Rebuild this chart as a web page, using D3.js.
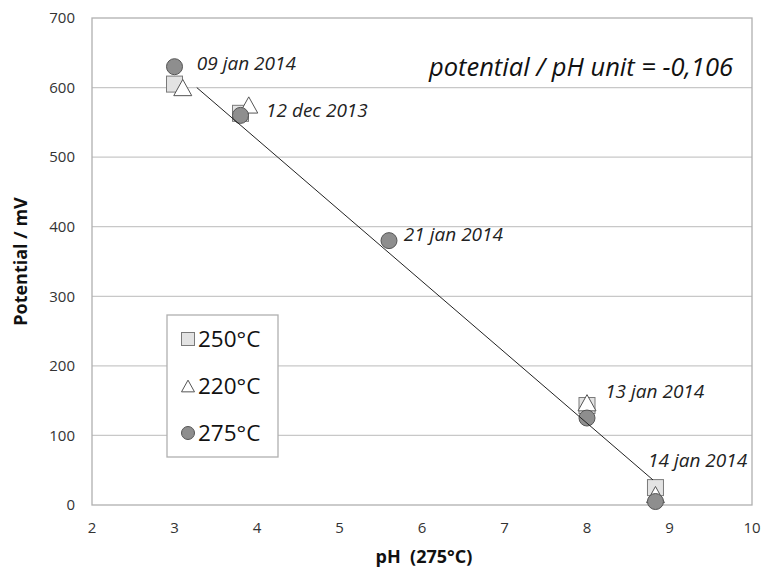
<!DOCTYPE html>
<html>
<head>
<meta charset="utf-8">
<title>Potential vs pH</title>
<script src="https://cdn.jsdelivr.net/npm/d3@7"></script>
<style>
	body { margin: 0; background: #fff; }
	text { font-family: "Open Sans", "Noto Sans", sans-serif; white-space: pre; }
</style>
</head>
<body>
<div id="vis"></div>
<script type="text/javascript">
// data
const xTicks = [2, 3, 4, 5, 6, 7, 8, 9, 10];
const yTicks = [0, 100, 200, 300, 400, 500, 600, 700];
const series = ['250°C', '220°C', '275°C'];
const pts250 = [[3.0, 605], [3.8, 563], [8.0, 143], [8.83, 25]];
const pts220 = [[3.1, 600], [3.9, 575], [8.0, 147], [8.83, 15]];
const pts275 = [[3.0, 630], [3.8, 560], [5.6, 380], [8.0, 125], [8.83, 5]];
const dateLabels = ['09 jan 2014', '12 dec 2013', '21 jan 2014', '13 jan 2014', '14 jan 2014'];
const datePos = [[3.27, 625], [4.11, 558], [5.78, 379], [8.22, 154], [8.74, 55]];
const trend = [[3.27, 600], [8.8, 36]];
const note = 'potential / pH unit = -0,106';

var W = 763, H = 573;
var margin = {top: 18, right: 11, bottom: 68, left: 92};
var svg = d3.select('#vis').append('svg').attr('width', W).attr('height', H);

var x = d3.scaleLinear().domain([2, 10]).range([margin.left, W - margin.right]);
var y = d3.scaleLinear().domain([0, 700]).range([H - margin.bottom, margin.top]);

// gridlines
svg.append('g').selectAll('line').data(yTicks.filter(function(d){ return d > 0 && d < 700; }))
	.enter().append('line')
	.attr('x1', x(2)).attr('x2', x(10))
	.attr('y1', function(d){ return y(d); }).attr('y2', function(d){ return y(d); })
	.attr('stroke', '#c8c8c8').attr('stroke-width', 1.3);

// frame
svg.append('rect')
	.attr('x', x(2)).attr('y', y(700))
	.attr('width', x(10) - x(2)).attr('height', y(0) - y(700))
	.attr('fill', 'none').attr('stroke', '#b0b0b0').attr('stroke-width', 1.3);

// y axis
var yAxis = svg.append('g').attr('transform', 'translate(' + x(2) + ',0)')
	.call(d3.axisLeft(y).tickValues(yTicks).tickSize(0).tickPadding(17));
yAxis.select('.domain').remove();
yAxis.selectAll('.tick text').attr('font-size', 15).attr('fill', '#333')
	.style('font-family', '"Open Sans", sans-serif');

// x axis labels (no tick marks)
svg.append('g').selectAll('text').data(xTicks)
	.enter().append('text')
	.attr('x', function(d){ return x(d); })
	.attr('y', y(0) + 28)
	.attr('text-anchor', 'middle')
	.attr('font-size', 15).attr('fill', '#333')
	.text(function(d){ return d; });

// axis titles
svg.append('text')
	.attr('transform', 'translate(27,' + ((y(0) + y(700)) / 2) + ') rotate(-90)')
	.attr('text-anchor', 'middle')
	.attr('font-size', 18).attr('font-weight', 'bold').attr('fill', '#111')
	.text('Potential / mV');
svg.append('text')
	.attr('x', (x(2) + x(10)) / 2 + 2).attr('y', 563)
	.attr('text-anchor', 'middle')
	.attr('font-size', 18).attr('font-weight', 'bold').attr('fill', '#111')
	.text('pH  (275°C)');

// markers
function drawSquare(g, cx, cy, s){
	g.append('rect').attr('x', cx - s/2).attr('y', cy - s/2).attr('width', s).attr('height', s)
		.attr('fill', '#e3e3e3').attr('stroke', '#7a7a7a').attr('stroke-width', 1);
}
function drawTriangle(g, cx, cy, s){
	var h = s * 0.9;
	g.append('path')
		.attr('d', 'M' + cx + ',' + (cy - h/2) + 'L' + (cx + s/2) + ',' + (cy + h/2) + 'L' + (cx - s/2) + ',' + (cy + h/2) + 'Z')
		.attr('fill', '#fff').attr('stroke', '#555').attr('stroke-width', 1);
}
function drawCircle(g, cx, cy, s){
	g.append('circle').attr('cx', cx).attr('cy', cy).attr('r', s/2)
		.attr('fill', '#8e8e8e').attr('stroke', '#555').attr('stroke-width', 1);
}

var marks = svg.append('g');
pts250.forEach(function(d){ drawSquare(marks, x(d[0]), y(d[1]), 16); });
pts220.forEach(function(d){ drawTriangle(marks, x(d[0]), y(d[1]), 18); });
pts275.forEach(function(d){ drawCircle(marks, x(d[0]), y(d[1]), 16); });

// trend line
svg.append('line')
	.attr('x1', x(trend[0][0])).attr('y1', y(trend[0][1]))
	.attr('x2', x(trend[1][0])).attr('y2', y(trend[1][1]))
	.attr('stroke', '#222').attr('stroke-width', 1);

// date labels
svg.append('g').selectAll('text').data(dateLabels)
	.enter().append('text')
	.attr('x', function(d, i){ return x(datePos[i][0]); })
	.attr('y', function(d, i){ return y(datePos[i][1]); })
	.attr('font-size', 19).attr('font-style', 'italic').attr('fill', '#222')
	.text(function(d){ return d; });

// slope note
svg.append('text')
	.attr('x', 733).attr('y', 76)
	.attr('text-anchor', 'end')
	.attr('font-size', 25.5).attr('font-style', 'italic').attr('fill', '#111')
	.text(note);

// legend
var leg = svg.append('g').attr('transform', 'translate(167,315)');
leg.append('rect').attr('width', 111).attr('height', 142)
	.attr('fill', '#fff').attr('stroke', '#b0b0b0').attr('stroke-width', 1.3);
var legDraw = [drawSquare, drawTriangle, drawCircle];
series.forEach(function(s, i){
	var cy = 24 + i * 47;
	legDraw[i](leg, 21, cy, 13);
	leg.append('text').attr('x', 31).attr('y', cy + 8)
		.attr('font-size', 22.5).attr('fill', '#111').text(s);
});
</script>
</body>
</html>
